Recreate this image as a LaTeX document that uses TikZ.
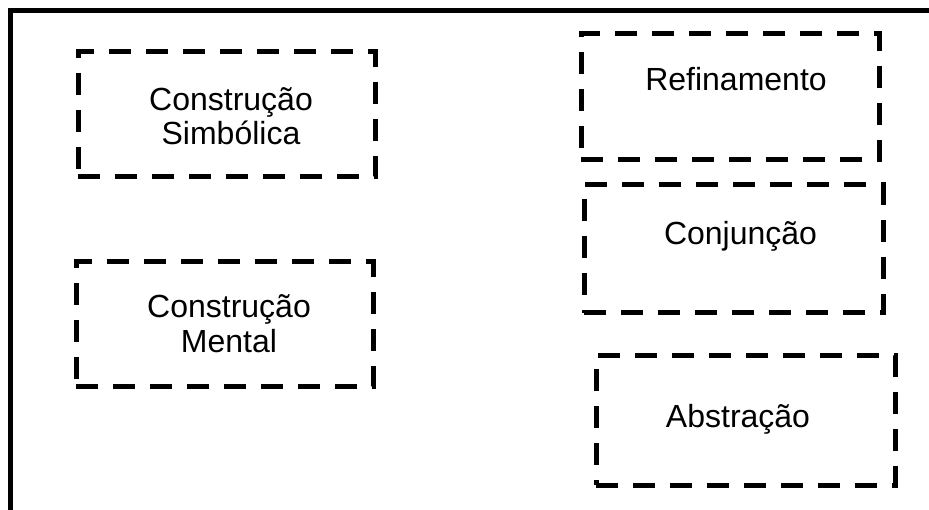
\documentclass[tikz,border=0pt]{standalone}
\usepackage{fontspec}
\setmainfont{Liberation Sans}
\begin{document}
\begin{tikzpicture}[x=1pt,y=-1pt,
  dbox/.style={draw=black,line width=5pt,dash pattern=on 22pt off 15pt,rectangle,inner sep=0pt},
  lbl/.style={font=\fontsize{32}{34.5}\selectfont,align=center,inner sep=0pt,anchor=base},
  frame/.style={draw=black,line width=5pt}]
\useasboundingbox (0,0) rectangle (929,510);
\coordinate (fb) at (10.5,510);
\coordinate (fc) at (10.5,10.5);
\coordinate (fr) at (929,10.5);
\draw[frame] (fb) -- (fc) -- (fr);
\node[dbox,minimum width=297pt,minimum height=125pt] (b1) at (226.5,114.5) {};
\node[dbox,minimum width=297pt,minimum height=125pt] (b2) at (224.5,324.5) {};
\node[dbox,minimum width=298pt,minimum height=126pt] (b3) at (730,97) {};
\node[dbox,minimum width=299pt,minimum height=128pt] (b4) at (733.5,249) {};
\node[dbox,minimum width=299pt,minimum height=129pt] (b5) at (745.5,420.5) {};
\node[lbl] (t1) at (231,145) {Construção\\Simbólica};
\node[lbl] (t2) at (229,352.5) {Construção\\Mental};
\node[lbl] (t3) at (736,91) {Refinamento};
\node[lbl] (t4) at (740.5,245) {Conjunção};
\node[lbl] (t5) at (738,428) {Abstração};
\end{tikzpicture}
\end{document}
